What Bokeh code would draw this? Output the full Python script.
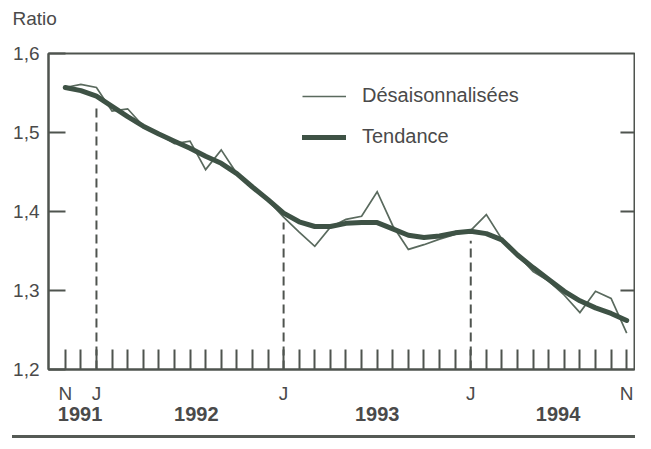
import json
from bokeh.plotting import figure
from bokeh.models import (LinearAxis, FixedTicker, CustomJSTickFormatter, Range1d,
                          Legend, LegendItem, Div)
from bokeh.layouts import column
from bokeh.embed import file_html
from bokeh.resources import INLINE

# ---------------- data ----------------
# monthly, November 1991 .. November 1994 (37 months)
month_numbers = [11, 12] + list(range(1, 13)) * 2 + list(range(1, 12))
deseasonalized = [1.557, 1.561, 1.557, 1.527, 1.530, 1.508, 1.498, 1.486, 1.489, 1.453,
                  1.478, 1.448, 1.432, 1.414, 1.393, 1.374, 1.356, 1.380, 1.390, 1.394,
                  1.425, 1.382, 1.352, 1.358, 1.365, 1.371, 1.376, 1.396, 1.365, 1.345,
                  1.324, 1.312, 1.294, 1.272, 1.299, 1.290, 1.246]
trend = [1.557, 1.553, 1.546, 1.533, 1.520, 1.508, 1.498, 1.489, 1.480, 1.470,
         1.461, 1.448, 1.431, 1.415, 1.398, 1.387, 1.381, 1.381, 1.385, 1.386,
         1.386, 1.378, 1.370, 1.367, 1.369, 1.373, 1.375, 1.372, 1.364, 1.345,
         1.329, 1.314, 1.299, 1.287, 1.278, 1.271, 1.262]
y_ticks = [1.2, 1.3, 1.4, 1.5, 1.6]
year_labels = ["1991", "1992", "1993", "1994"]
series_names = ["Désaisonnalisées", "Tendance"]
title_text = "Ratio"

# ---------------- layout constants ----------------
year_label_pos = [0.95, 8.4, 20.0, 31.6]
X_START, X_END = -1.075, 36.5
RIGHT_TICK_LEN = 0.9          # in months (~14 px)
months = list(range(len(month_numbers)))
month_letter = {1: "J", 11: "N"}
tick_text = []
for i, m in enumerate(month_numbers):
    if m == 1 or i == 0 or i == len(month_numbers) - 1:
        tick_text.append(month_letter.get(m, ""))
    else:
        tick_text.append("")
jan_idx = [i for i, m in enumerate(month_numbers) if m == 1]

FONT = "Liberation Sans"
TXT = "#4a4a4a"
AX = "#4f544f"
THIN = "#5a6a5e"
THICK = "#3e5245"

p = figure(width=635, height=430, x_range=Range1d(X_START, X_END),
           y_range=Range1d(y_ticks[0], y_ticks[-1]),
           output_backend="svg", toolbar_location=None,
           min_border_left=48, min_border_right=1, min_border_top=53,
           min_border_bottom=61)
p.background_fill_color = "white"
p.border_fill_color = "white"
p.xgrid.visible = False
p.ygrid.visible = False
p.outline_line_color = AX
p.outline_line_width = 2

# title "Ratio" (top-left, above the tick labels)
p.title.text = title_text
p.title.align = "left"
p.title.vertical_align = "top"
p.title.offset = -36
p.title.standoff = 14
p.title.padding = dict(left=0, right=0, top=0, bottom=16)
p.title.text_font = FONT
p.title.text_font_size = "19px"
p.title.text_font_style = "normal"
p.title.text_color = TXT

# left axis
ya = p.yaxis[0]
ya.ticker = FixedTicker(ticks=y_ticks)
ya.formatter = CustomJSTickFormatter(code="return tick.toFixed(1).replace('.', ',');")
ya.major_tick_in = 17
ya.major_tick_out = 0
ya.minor_tick_line_color = None
ya.axis_line_width = 2
ya.axis_line_color = AX
ya.major_tick_line_width = 2
ya.major_tick_line_color = AX
ya.major_label_standoff = 9
ya.major_label_text_font = FONT
ya.major_label_text_font_size = "19px"
ya.major_label_text_color = TXT

# bottom axis: monthly ticks
xa = p.xaxis[0]
xa.ticker = FixedTicker(ticks=months)
xa.formatter = CustomJSTickFormatter(
    code="const L = %s; const i = Math.round(tick); return (i >= 0 && i < L.length) ? L[i] : '';"
    % json.dumps(tick_text))
xa.major_tick_in = 20
xa.major_tick_out = 0
xa.minor_tick_line_color = None
xa.axis_line_width = 2
xa.axis_line_color = AX
xa.major_tick_line_width = 2
xa.major_tick_line_color = AX
xa.major_label_standoff = 13
xa.major_label_text_font = FONT
xa.major_label_text_font_size = "19px"
xa.major_label_text_color = TXT

# second bottom axis: years
yax = LinearAxis(ticker=FixedTicker(ticks=year_label_pos),
                 formatter=CustomJSTickFormatter(
                     code="const P = %s; const L = %s; for (let k = 0; k < P.length; k++) { if (Math.abs(P[k] - tick) < 1e-6) return L[k]; } return '';"
                     % (json.dumps(year_label_pos), json.dumps(year_labels))))
yax.axis_line_color = None
yax.major_tick_line_color = None
yax.minor_tick_line_color = None
yax.major_tick_in = 0
yax.major_tick_out = 0
yax.major_label_standoff = 0
yax.major_label_text_font = FONT
yax.major_label_text_font_size = "20px"
yax.major_label_text_font_style = "bold"
yax.major_label_text_color = TXT
p.add_layout(yax, "below")

# right-hand inner ticks at the inner y tick values
inner = y_ticks[1:-1]
p.segment(x0=[X_END] * len(inner), y0=inner, x1=[X_END - RIGHT_TICK_LEN] * len(inner),
          y1=inner, line_color=AX, line_width=2)

# dashed January markers
p.segment(x0=jan_idx, y0=[y_ticks[0]] * len(jan_idx), x1=jan_idx,
          y1=[trend[i] - 0.012 for i in jan_idx],
          line_color=AX, line_width=2, line_dash="9 5")

r_thin = p.line(months, deseasonalized, line_color=THIN, line_width=1.7,
                line_join="miter")
r_thick = p.line(months, trend, line_color=THICK, line_width=5, line_join="round",
                 line_cap="round")

legend = Legend(items=[LegendItem(label=series_names[0], renderers=[r_thin]),
                       LegendItem(label=series_names[1], renderers=[r_thick])],
                location=(254, 221), orientation="vertical")
legend.border_line_color = None
legend.background_fill_alpha = 0
legend.padding = 0
legend.margin = 0
legend.spacing = 18
legend.glyph_width = 44
legend.glyph_height = 20
legend.label_height = 20
legend.label_standoff = 16
legend.label_text_font = FONT
legend.label_text_font_size = "20px"
legend.label_text_color = TXT
p.add_layout(legend)

sep = Div(text="", width=623, height=3,
          styles={"background-color": "#555a55", "margin-left": "12px"})

layout = column(p, sep, spacing=0)

open("out.html", "w").write(file_html(layout, INLINE))
